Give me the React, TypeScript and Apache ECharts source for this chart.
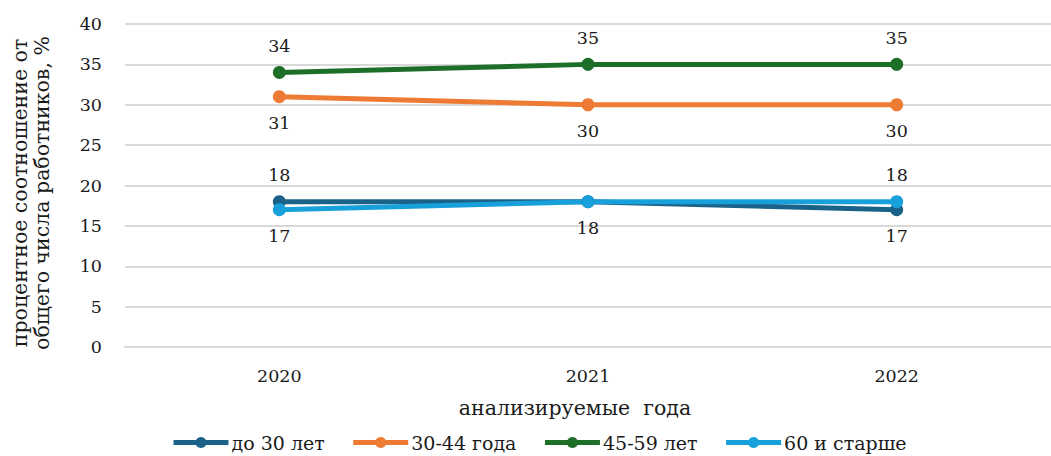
import React, { useEffect, useRef } from "react";
import * as echarts from "echarts";

const categories = ["2020", "2021", "2022"];
const seriesNames = ["до 30 лет", "30-44 года", "45-59 лет", "60 и старше"];
const under30 = [18, 18, 17];
const age30to44 = [31, 30, 30];
const age45to59 = [34, 35, 35];
const age60plus = [17, 18, 18];
const colors = ["#1b6289", "#ee7b33", "#1d6e27", "#18a0db"];
// label placement per point: "top" | "bottom" | "none"
const under30Labels = ["top", "none", "bottom"];
const age30to44Labels = ["bottom", "bottom", "bottom"];
const age45to59Labels = ["top", "top", "top"];
const age60plusLabels = ["bottom", "bottom", "top"];

const FONT = "DejaVu Serif";

export default function App() {
  const ref = useRef<HTMLDivElement>(null);
  useEffect(() => {
    if (!ref.current) return;
    const chart = echarts.init(ref.current, undefined, { renderer: "svg" });
    const mk = (name: string, data: number[], pos: string[], color: string) => ({
      name,
      type: "line",
      data: data.map((v, i) => ({
        value: v,
        label:
          pos[i] === "none"
            ? { show: false }
            : { show: true, position: pos[i], distance: 11 },
      })),
      color,
      symbol: "circle",
      symbolSize: 13,
      lineStyle: { width: 5, color },
      itemStyle: { color },
      label: { fontFamily: FONT, fontSize: 17.5, color: "#1a1a1a" },
    });
    chart.setOption({
      animation: false,
      textStyle: { fontFamily: FONT },
      grid: { left: 125, top: 24, width: 937, height: 323, containLabel: false },
      xAxis: {
        type: "category",
        data: categories,
        boundaryGap: true,
        axisLine: { show: true, lineStyle: { color: "#d9d9d9", width: 2 } },
        axisTick: { show: false },
        axisLabel: { fontFamily: FONT, fontSize: 17.5, color: "#1a1a1a", margin: 20 },
      },
      yAxis: {
        type: "value",
        min: 0,
        max: 40,
        interval: 5,
        axisLine: { show: false },
        axisTick: { show: false },
        splitLine: { lineStyle: { color: "#d9d9d9", width: 2 } },
        axisLabel: { fontFamily: FONT, fontSize: 17.5, color: "#1a1a1a", margin: 23 },
      },
      legend: {
        bottom: -1,
        left: 166,
        itemWidth: 55,
        itemHeight: 14,
        itemGap: 26,
        lineStyle: { width: 5 },
        textStyle: { fontFamily: FONT, fontSize: 19, color: "#1a1a1a", padding: [0, 0, 0, -2] },
        data: seriesNames,
      },
      graphic: [
        {
          type: "text",
          x: 31,
          y: 193,
          rotation: Math.PI / 2,
          style: {
            text: "процентное соотношение от\nобщего числа работников, %",
            fontFamily: FONT,
            fontSize: 20.5,
            fill: "#1a1a1a",
            align: "center",
            verticalAlign: "middle",
            lineHeight: 22,
          },
        },
        {
          type: "text",
          x: 575,
          y: 408,
          style: {
            text: "анализируемые  года",
            fontFamily: FONT,
            fontSize: 20.5,
            fill: "#1a1a1a",
            align: "center",
            verticalAlign: "middle",
          },
        },
      ],
      series: [
        mk(seriesNames[0], under30, under30Labels, colors[0]),
        mk(seriesNames[1], age30to44, age30to44Labels, colors[1]),
        mk(seriesNames[2], age45to59, age45to59Labels, colors[2]),
        mk(seriesNames[3], age60plus, age60plusLabels, colors[3]),
      ],
    });
    return () => chart.dispose();
  }, []);
  return (
    <div
      ref={ref}
      style={{ position: "fixed", left: 0, top: 0, width: 1051, height: 456, background: "#fff" }}
    />
  );
}
